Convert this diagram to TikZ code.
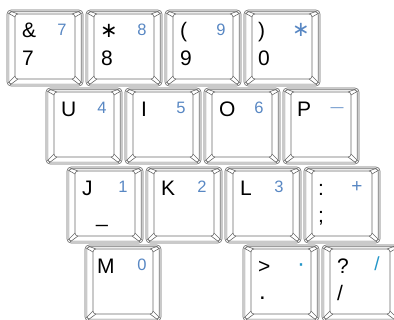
\documentclass[tikz,border=0pt]{standalone}
\usepackage{fontspec}
\setmainfont{Liberation Sans}
\newfontfamily\symfont{DejaVu Sans}
\usepackage{tikz}
\usetikzlibrary{positioning}
\definecolor{keyblue}{RGB}{88,135,195}
\definecolor{keyteal}{RGB}{35,150,200}
\definecolor{keygray}{RGB}{105,105,105}

% one key cap: name, left, top (px, y down)
\newcommand{\keycap}[3]{%
  \coordinate (#1) at (#2,#3);
  \begin{scope}[shift={(#2,#3)}]
    \draw[keyline,rounded corners=4] (0,0) rectangle (76,76);
    \draw[keyline,rounded corners=3] (1.8,1.8) rectangle (74.2,74.2);
    \draw[keyline,rounded corners=3] (8,4) rectangle (68,69);
    % corner bevels
    \draw[keyline] (8,7) -- (1,3) (11,4) -- (3,1);
    \draw[keyline] (65,4) -- (73,1) (68,7) -- (75,3);
    \draw[keyline] (8,66) -- (1,73) (11,69) -- (3,75);
    \draw[keyline] (68,66) -- (75,73) (65,69) -- (73,75);
  \end{scope}}

\begin{document}
\begin{tikzpicture}[x=1pt,y=-1pt,
  keyline/.style={keygray,line width=0.6pt},
  keychar/.style={anchor=base west,inner sep=0pt,font=\fontsize{21}{22}\selectfont},
  numchar/.style={anchor=base,inner sep=0pt,text=keyblue,font=\fontsize{16.5}{18}\selectfont},
  starchar/.style={anchor=base west,inner sep=0pt,font=\symfont\fontsize{21}{22}\selectfont}]
  \useasboundingbox (0,0) rectangle (394,320);
  \clip (0,0) rectangle (394,320);
  % --- key caps ---
  % top row
  \keycap{k7}{7}{10}
  \keycap{k8}{86}{10}
  \keycap{k9}{165}{10}
  \keycap{k0}{244}{10}
  % second row
  \keycap{kU}{46}{88}
  \keycap{kI}{125}{88}
  \keycap{kO}{204}{88}
  \keycap{kP}{283}{88}
  % third row
  \keycap{kJ}{67}{167}
  \keycap{kK}{146}{167}
  \keycap{kL}{225}{167}
  \keycap{ksemi}{304}{167}
  % bottom row
  \keycap{kM}{85}{245}
  \keycap{kdot}{243}{245}
  \keycap{kslash}{322}{245}

  % --- legends ---
  \node[keychar] (k7top) at ([shift={(15,28)}]k7) {\&};
  \node[keychar] (k7bot) at ([shift={(15,56)}]k7) {7};
  \node[numchar] (k7num) at ([shift={(55,26)}]k7) {7};
  \node[starchar] (k8top) at ([shift={(14,28)}]k8) {∗};
  \node[keychar] (k8bot) at ([shift={(15,56)}]k8) {8};
  \node[numchar] (k8num) at ([shift={(56,26)}]k8) {8};
  \node[keychar] (k9top) at ([shift={(15,28)}]k9) {(};
  \node[keychar] (k9bot) at ([shift={(15,56)}]k9) {9};
  \node[numchar] (k9num) at ([shift={(56,26)}]k9) {9};
  \node[keychar] (k0top) at ([shift={(14,28)}]k0) {)};
  \node[keychar] (k0bot) at ([shift={(14,56)}]k0) {0};
  \node[starchar,anchor=base,text=keyblue] (k0num) at ([shift={(57,27)}]k0) {∗};

  \node[keychar] (kUtop) at ([shift={(15,29)}]kU) {U};
  \node[numchar] (kUnum) at ([shift={(56,26)}]kU) {4};
  \node[keychar] (kItop) at ([shift={(16,29)}]kI) {I};
  \node[numchar] (kInum) at ([shift={(56,26)}]kI) {5};
  \node[keychar] (kOtop) at ([shift={(15,29)}]kO) {O};
  \node[numchar] (kOnum) at ([shift={(55,26)}]kO) {6};
  \node[keychar] (kPtop) at ([shift={(14,29)}]kP) {P};
  \node[numchar,font=\fontsize{13}{14}\selectfont] (kPnum) at ([shift={(54,24)}]kP) {\textemdash};

  \node[keychar] (kJtop) at ([shift={(15,29)}]kJ) {J};
  \node[keychar] (kJbot) at ([shift={(29,56)}]kJ) {\_};
  \node[numchar] (kJnum) at ([shift={(56,26)}]kJ) {1};
  \node[keychar] (kKtop) at ([shift={(15,29)}]kK) {K};
  \node[numchar] (kKnum) at ([shift={(56,26)}]kK) {2};
  \node[keychar] (kLtop) at ([shift={(15,29)}]kL) {L};
  \node[numchar] (kLnum) at ([shift={(54,26)}]kL) {3};
  \node[keychar] (ksemitop) at ([shift={(14,29)}]ksemi) {:};
  \node[keychar] (ksemibot) at ([shift={(14,56)}]ksemi) {;};
  \node[numchar,font=\fontsize{19}{20}\selectfont] (kseminum) at ([shift={(53,26)}]ksemi) {+};

  \node[keychar] (kMtop) at ([shift={(12,29)}]kM) {M};
  \node[numchar] (kMnum) at ([shift={(57,26)}]kM) {0};
  \node[keychar] (kdottop) at ([shift={(15,29)}]kdot) {>};
  \node[keychar,font=\fontsize{24}{24}\selectfont] (kdotbot) at ([shift={(16,55)}]kdot) {.};
  \node[numchar,text=keyteal,font=\fontsize{24}{24}\selectfont] (kdotnum) at ([shift={(58,27)}]kdot) {·};
  \node[keychar] (kslashtop) at ([shift={(15,29)}]kslash) {?};
  \node[keychar] (kslashbot) at ([shift={(15,56)}]kslash) {/};
  \node[numchar,text=keyteal,font=\fontsize{19}{20}\selectfont] (kslashnum) at ([shift={(55,26)}]kslash) {/};
\end{tikzpicture}
\end{document}
